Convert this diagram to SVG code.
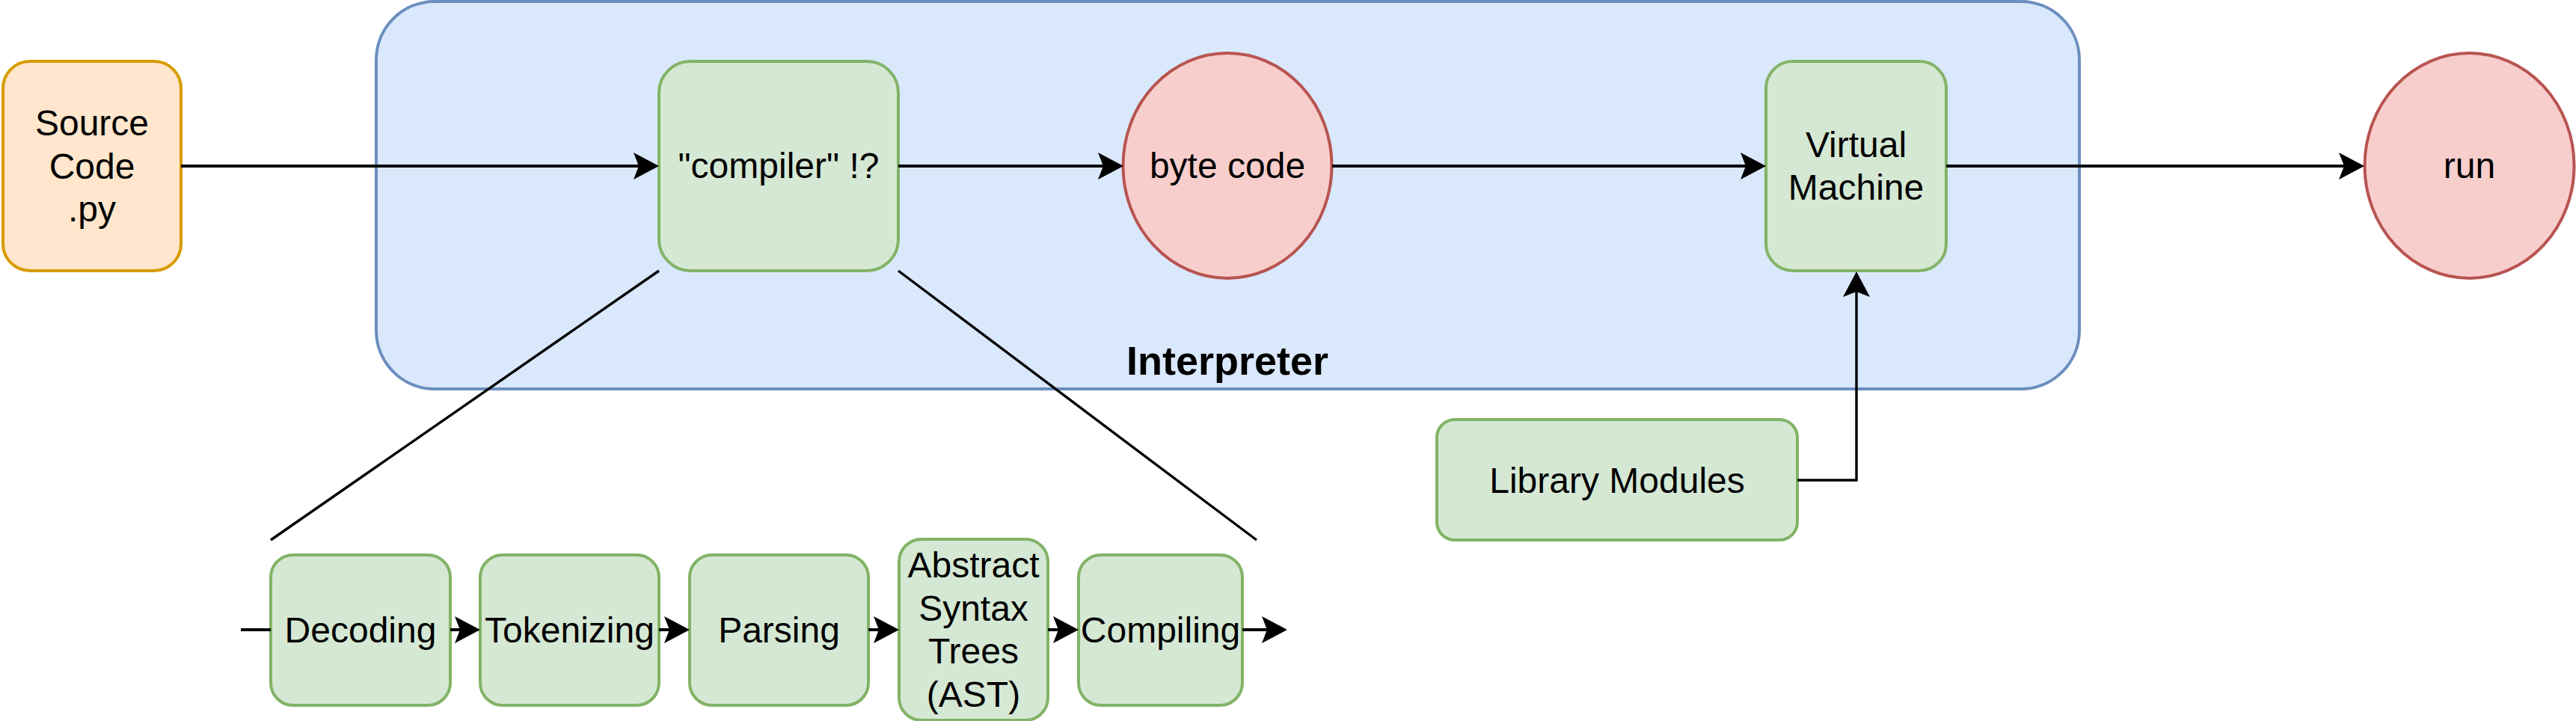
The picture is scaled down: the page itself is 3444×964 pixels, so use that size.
<svg xmlns="http://www.w3.org/2000/svg" width="3444" height="964" viewBox="0 0 3444 964">
<style>
  .t { font-family: "Liberation Sans", Arial, sans-serif; font-size: 48px; fill: #000; text-anchor: middle; }
  .b { font-weight: bold; font-size: 54px; }
  .green { fill: #d5e8d4; stroke: #82b366; stroke-width: 4; }
  .red { fill: #f8cecc; stroke: #b85450; stroke-width: 4; }
  .conn { fill: none; stroke: #000; stroke-width: 4; }
  .thin { fill: none; stroke: #000; stroke-width: 3.4; }
</style>
<defs>
  <marker id="arr" markerUnits="userSpaceOnUse" viewBox="-36 -20 38 40" markerWidth="38" markerHeight="40" refX="-20" refY="0" orient="auto">
    <path d="M0,0 L-34,-18 L-27,0 L-34,18 Z" fill="#000"/>
  </marker>
</defs>
<rect width="3444" height="964" fill="#fff"/>
<g id="interpreter">
  <rect x="503" y="2" width="2277" height="518" rx="78" ry="78" fill="#dae8fc" stroke="#6c8ebf" stroke-width="4"/>
  <text class="t b" x="1641" y="501">Interpreter</text>
</g>
<g id="source">
  <rect x="4" y="82" width="238" height="280" rx="36" ry="36" fill="#ffe6cc" stroke="#d79b00" stroke-width="4"/>
  <text class="t" x="123" y="181">Source</text>
  <text class="t" x="123" y="238.6">Code</text>
  <text class="t" x="123" y="296">.py</text>
</g>
<g id="compiler">
  <rect class="green" x="881" y="82" width="320" height="280" rx="42" ry="42"/>
  <text class="t" x="1041" y="238">"compiler" !?</text>
</g>
<g id="bytecode">
  <ellipse class="red" cx="1641" cy="221.5" rx="139.5" ry="150.5"/>
  <text class="t" x="1641" y="238">byte code</text>
</g>
<g id="vm">
  <rect class="green" x="2361" y="82" width="241" height="280" rx="36" ry="36"/>
  <text class="t" x="2481.5" y="210">Virtual</text>
  <text class="t" x="2481.5" y="267">Machine</text>
</g>
<g id="run">
  <ellipse class="red" cx="3301.5" cy="221.5" rx="140" ry="150.5"/>
  <text class="t" x="3301.5" y="238">run</text>
</g>
<g id="library">
  <rect class="green" x="1921" y="561" width="482" height="161" rx="24" ry="24"/>
  <text class="t" x="2162" y="658.6">Library Modules</text>
</g>
<g id="decoding">
  <rect class="green" x="362" y="742" width="240" height="201" rx="30" ry="30"/>
  <text class="t" x="482" y="859">Decoding</text>
</g>
<g id="tokenizing">
  <rect class="green" x="642" y="742" width="239" height="201" rx="30" ry="30"/>
  <text class="t" x="761.5" y="859">Tokenizing</text>
</g>
<g id="parsing">
  <rect class="green" x="922" y="742" width="239" height="201" rx="30" ry="30"/>
  <text class="t" x="1041.5" y="859">Parsing</text>
</g>
<g id="ast">
  <rect class="green" x="1202" y="721" width="199" height="242" rx="30" ry="30"/>
  <text class="t" x="1301.5" y="772">Abstract</text>
  <text class="t" x="1301.5" y="830">Syntax</text>
  <text class="t" x="1301.5" y="887">Trees</text>
  <text class="t" x="1301.5" y="945">(AST)</text>
</g>
<g id="compiling">
  <rect class="green" x="1442" y="742" width="219" height="201" rx="30" ry="30"/>
  <text class="t" x="1551.5" y="859">Compiling</text>
</g>
<g id="connectors">
  <path class="conn" d="M242,222 H861" marker-end="url(#arr)"/>
  <path class="conn" d="M1201,222 H1482" marker-end="url(#arr)"/>
  <path class="conn" d="M1781,222 H2341" marker-end="url(#arr)"/>
  <path class="conn" d="M2602,222 H3141" marker-end="url(#arr)"/>
  <path class="thin" d="M2403,642 H2482 V383" marker-end="url(#arr)"/>
  <path class="thin" d="M881,362 L362,722"/>
  <path class="thin" d="M1201,362 L1680,722"/>
  <path class="conn" d="M322,842 H362"/>
  <path class="conn" d="M602,842 H622" marker-end="url(#arr)"/>
  <path class="conn" d="M881,842 H902" marker-end="url(#arr)"/>
  <path class="conn" d="M1161,842 H1182" marker-end="url(#arr)"/>
  <path class="conn" d="M1401,842 H1422" marker-end="url(#arr)"/>
  <path class="conn" d="M1661,842 H1701" marker-end="url(#arr)"/>
</g>
</svg>
